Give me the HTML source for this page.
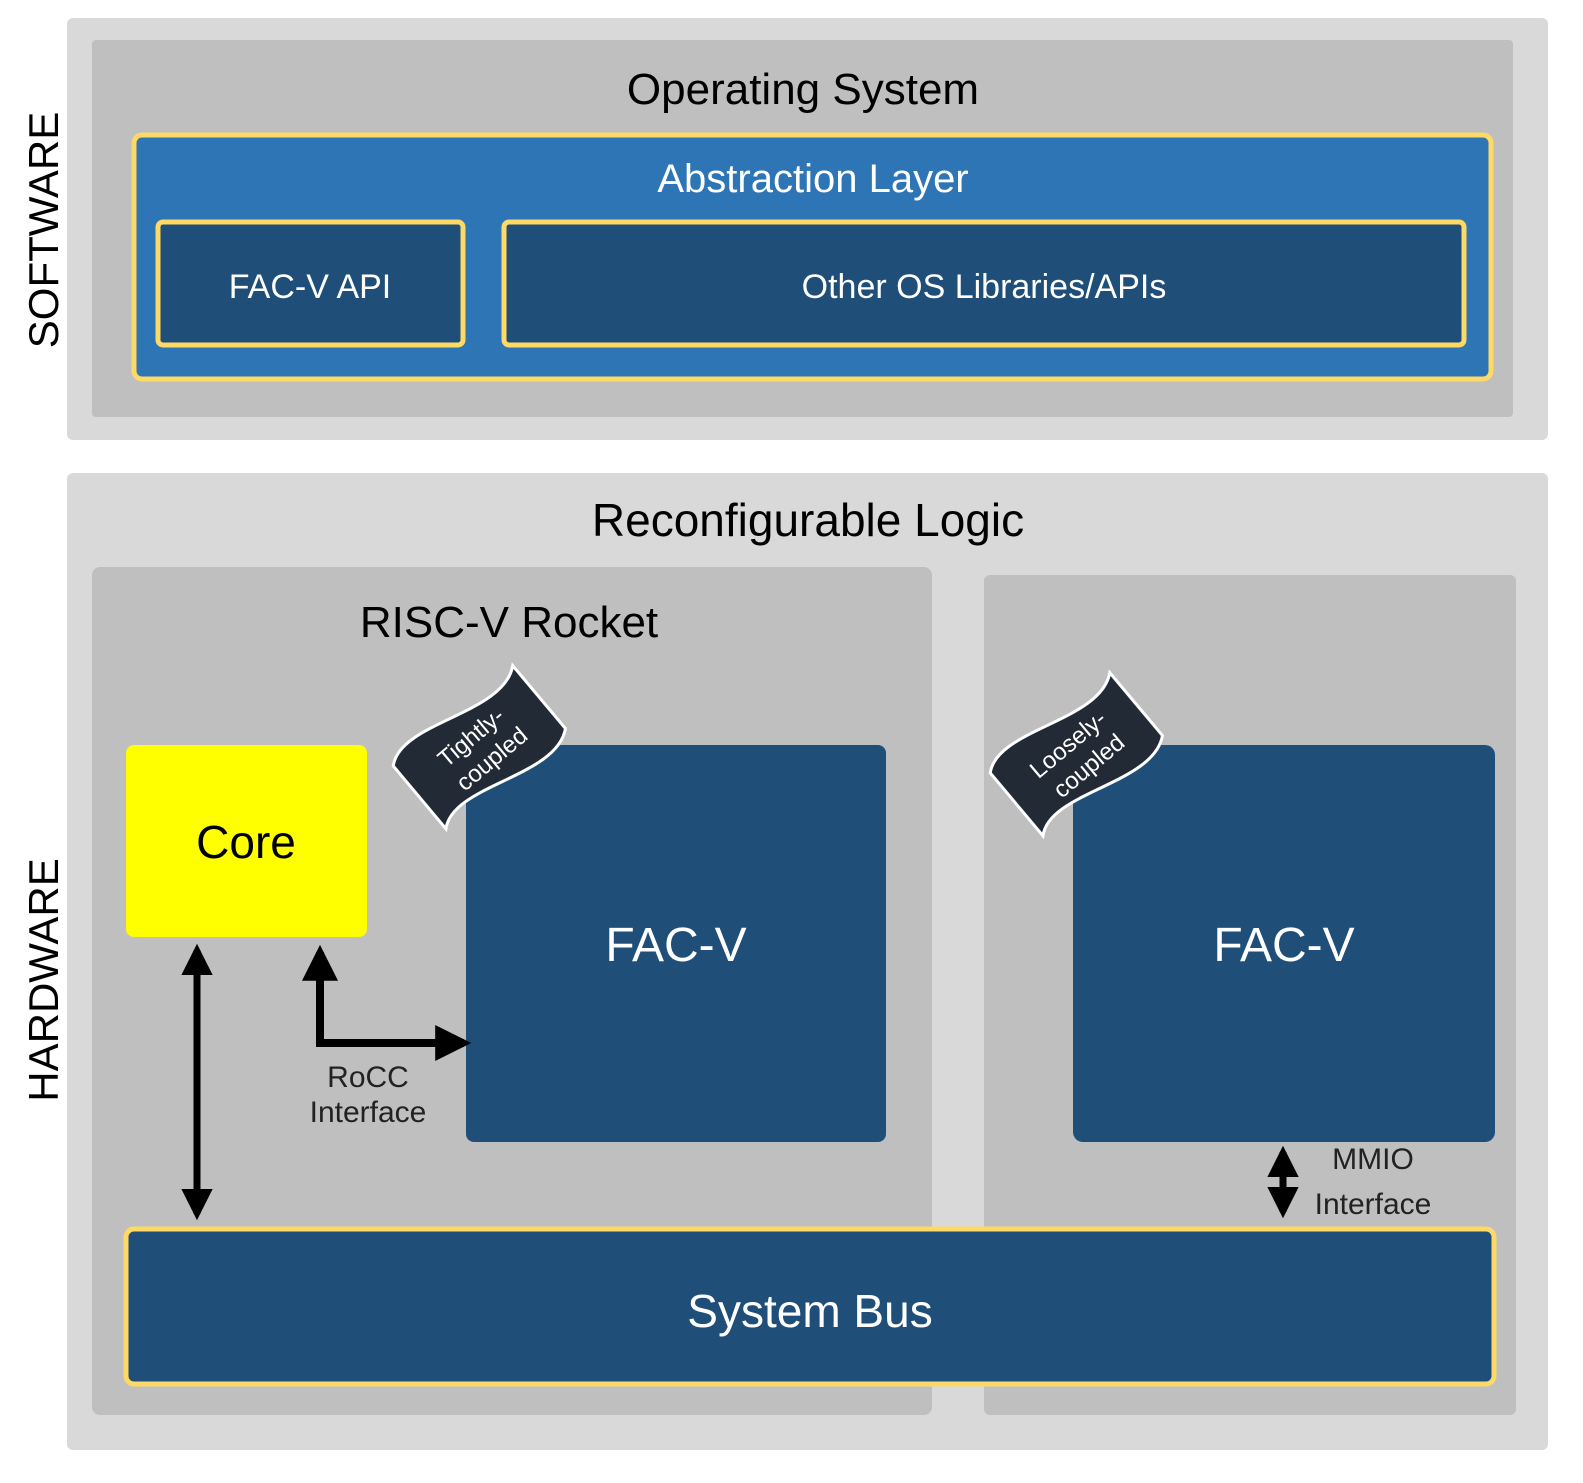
<!DOCTYPE html>
<html><head><meta charset="utf-8"><style>
html,body{margin:0;padding:0;background:#fff;overflow:hidden;width:1583px;height:1483px;}
svg{display:block;font-family:"Liberation Sans",sans-serif;}
</style></head><body>
<svg width="1583" height="1483" viewBox="0 0 1583 1483" xmlns="http://www.w3.org/2000/svg">
<defs>
<marker id="ah" viewBox="0 0 10 10" refX="8" refY="5" markerWidth="4.5" markerHeight="4.5" orient="auto-start-reverse" markerUnits="strokeWidth">
<path d="M0,0 L10,5 L0,10 Z" fill="#000"/></marker>
</defs>
<rect width="1583" height="1483" fill="#fff"/>
<!-- software -->
<rect x="67" y="18" width="1481" height="422" rx="6" fill="#d9d9d9"/>
<rect x="92" y="40" width="1421" height="377" rx="4" fill="#bfbfbf"/>
<text x="803" y="104" font-size="44" text-anchor="middle" fill="#000">Operating System</text>
<rect x="134" y="135" width="1357" height="244" rx="8" fill="#2e75b6" stroke="#ffd966" stroke-width="5"/>
<text x="813" y="192" font-size="40" text-anchor="middle" fill="#fff">Abstraction Layer</text>
<rect x="158" y="222" width="305" height="123" rx="5" fill="#1f4e79" stroke="#ffd966" stroke-width="5"/>
<text x="310" y="298" font-size="34" text-anchor="middle" fill="#fff">FAC-V API</text>
<rect x="504" y="222" width="960" height="123" rx="5" fill="#1f4e79" stroke="#ffd966" stroke-width="5"/>
<text x="984" y="298" font-size="34" text-anchor="middle" fill="#fff">Other OS Libraries/APIs</text>
<text transform="translate(58,230) rotate(-90)" font-size="42" text-anchor="middle" fill="#000">SOFTWARE</text>
<!-- hardware -->
<rect x="67" y="473" width="1481" height="977" rx="6" fill="#d9d9d9"/>
<text x="808" y="536" font-size="46" text-anchor="middle" fill="#000">Reconfigurable Logic</text>
<text transform="translate(58,980) rotate(-90)" font-size="42" text-anchor="middle" fill="#000">HARDWARE</text>
<rect x="92" y="567" width="840" height="848" rx="8" fill="#bfbfbf"/>
<rect x="984" y="575" width="532" height="840" rx="6" fill="#bfbfbf"/>
<text x="509" y="637" font-size="44" text-anchor="middle" fill="#000">RISC-V Rocket</text>
<rect x="126" y="745" width="241" height="192" rx="8" fill="#ffff00"/>
<text x="246" y="858" font-size="46" text-anchor="middle" fill="#000">Core</text>
<rect x="466" y="745" width="420" height="397" rx="8" fill="#1f4e79"/>
<text x="676" y="961" font-size="48" text-anchor="middle" fill="#fff">FAC-V</text>
<rect x="1073" y="745" width="422" height="397" rx="10" fill="#1f4e79"/>
<text x="1284" y="961" font-size="48" text-anchor="middle" fill="#fff">FAC-V</text>
<!-- banners -->
<g transform="translate(480,748) rotate(-40)">
<path d="M-78,-42 C-45,-72 40,-10 78,-42 L78,40 C40,72 -45,10 -78,40 Z" fill="#222a35" stroke="#fff" stroke-width="3"/>
<text x="0" y="-6" font-size="24" text-anchor="middle" fill="#fff">Tightly-</text>
<text x="2" y="24" font-size="24" text-anchor="middle" fill="#fff">coupled</text>
</g>
<g transform="translate(1077,755) rotate(-40)">
<path d="M-78,-42 C-45,-72 40,-10 78,-42 L78,40 C40,72 -45,10 -78,40 Z" fill="#222a35" stroke="#fff" stroke-width="3"/>
<text x="0" y="-6" font-size="24" text-anchor="middle" fill="#fff">Loosely-</text>
<text x="2" y="24" font-size="24" text-anchor="middle" fill="#fff">coupled</text>
</g>
<!-- system bus -->
<rect x="126" y="1229" width="1368" height="155" rx="8" fill="#1f4e79" stroke="#ffd966" stroke-width="5"/>
<text x="810" y="1327" font-size="46" text-anchor="middle" fill="#fff">System Bus</text>
<!-- arrows -->
<line x1="197" y1="950" x2="197" y2="1214" stroke="#000" stroke-width="7" marker-start="url(#ah)" marker-end="url(#ah)"/>
<polyline points="320,952 320,1043 464,1043" fill="none" stroke="#000" stroke-width="8" marker-start="url(#ah)" marker-end="url(#ah)"/>
<line x1="1283" y1="1152" x2="1283" y2="1212" stroke="#000" stroke-width="7" marker-start="url(#ah)" marker-end="url(#ah)"/>
<text x="368" y="1087" font-size="30" text-anchor="middle" fill="#222">RoCC</text>
<text x="368" y="1122" font-size="30" text-anchor="middle" fill="#222">Interface</text>
<text x="1373" y="1169" font-size="30" text-anchor="middle" fill="#222">MMIO</text>
<text x="1373" y="1214" font-size="30" text-anchor="middle" fill="#222">Interface</text>
</svg>
</body></html>
